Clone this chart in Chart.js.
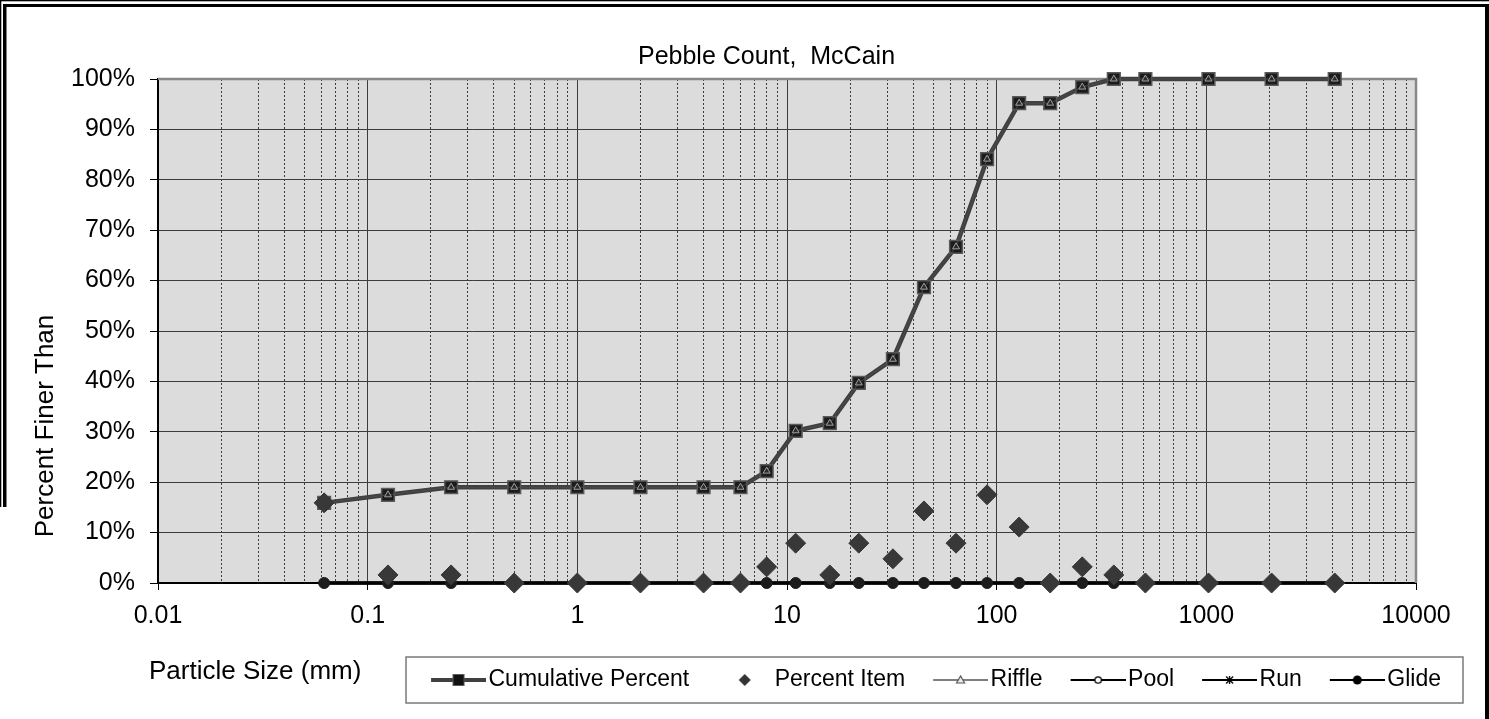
<!DOCTYPE html>
<html>
<head>
<meta charset="utf-8">
<title>Pebble Count, McCain</title>
<script src="https://cdn.jsdelivr.net/npm/chart.js@4.4.1/dist/chart.umd.min.js"></script>
<style>
  html, body { margin: 0; padding: 0; background: #fff; }
  #wrap { position: relative; width: 1489px; height: 719px; }
</style>
</head>
<body>
<div id="wrap"><canvas id="chart"></canvas></div>
<script>
// Particle sizes (mm) of the size classes
const sizes = [0.062, 0.125, 0.25, 0.5, 1, 2, 4, 6, 8, 11, 16, 22, 32, 45, 64, 90, 128, 180, 256, 362, 512, 1024, 2048, 4096];

// Series values (%)
const cumulative  = [15.9, 17.5, 19.0, 19.0, 19.0, 19.0, 19.0, 19.0, 22.2, 30.2, 31.7, 39.7, 44.4, 58.7, 66.7, 84.1, 95.2, 95.2, 98.4, 100, 100, 100, 100, 100];
const percentItem = [15.9, 1.6, 1.6, 0, 0, 0, 0, 0, 3.2, 7.9, 1.6, 7.9, 4.8, 14.3, 7.9, 17.5, 11.1, 0, 3.2, 1.6, 0, 0, 0, 0];
const riffle      = [15.9, 17.5, 19.0, 19.0, 19.0, 19.0, 19.0, 19.0, 22.2, 30.2, 31.7, 39.7, 44.4, 58.7, 66.7, 84.1, 95.2, 95.2, 98.4, 100, 100, 100, 100, 100];
const pool        = [0, 0, 0, 0, 0, 0, 0, 0, 0, 0, 0, 0, 0, 0, 0, 0, 0, 0, 0, 0, 0, 0, 0, 0];
const run         = [0, 0, 0, 0, 0, 0, 0, 0, 0, 0, 0, 0, 0, 0, 0, 0, 0, 0, 0, 0, 0, 0, 0, 0];
const glide       = [0, 0, 0, 0, 0, 0, 0, 0, 0, 0, 0, 0, 0, 0, 0, 0, 0, 0, 0, 0, 0, 0, 0, 0];

const seriesNames = ['Cumulative Percent', 'Percent Item', 'Riffle', 'Pool', 'Run', 'Glide'];

// Axis ticks
const xDecades = [0.01, 0.1, 1, 10, 100, 1000, 10000];
const xTickLabels = ['0.01', '0.1', '1', '10', '100', '1000', '10000'];
const minorSteps = [2, 3, 4, 5, 6, 7, 8, 9];
const yTickLabels = ['0%', '10%', '20%', '30%', '40%', '50%', '60%', '70%', '80%', '90%', '100%'];

const titleText = 'Pebble Count,  McCain';
const xTitle = 'Particle Size (mm)';
const yTitle = 'Percent Finer Than';

Chart.defaults.font.family = '"Liberation Sans", Arial, sans-serif';
Chart.defaults.color = '#000';

const toPoints = (vals) => sizes.map((s, i) => ({ x: s, y: vals[i] }));

function buildXTicks() {
  const ticks = [];
  xDecades.forEach((d, i) => {
    ticks.push({ value: d, major: true });
    if (i < xDecades.length - 1) {
      minorSteps.forEach((m) => ticks.push({ value: d * m, major: false }));
    }
  });
  return ticks;
}

// little line+marker samples for the legend
function legendIcon(line, marker) {
  const c = document.createElement('canvas');
  c.width = 64;
  c.height = 24;
  const g = c.getContext('2d');
  if (line) {
    g.strokeStyle = line.color;
    g.lineWidth = line.width;
    g.beginPath();
    g.moveTo(9, 12);
    g.lineTo(64, 12);
    g.stroke();
  }
  marker(g, 36.5, 12);
  return c;
}

const icons = [
  legendIcon({ color: '#404040', width: 4 }, (g, x, y) => {
    g.fillStyle = '#111';
    g.fillRect(x - 5.5, y - 5.5, 11, 11);
    g.strokeStyle = '#5a5a5a';
    g.lineWidth = 1;
    g.strokeRect(x - 5.5, y - 5.5, 11, 11);
  }),
  legendIcon(null, (g, x, y) => {
    g.fillStyle = '#333';
    g.beginPath();
    g.moveTo(x, y - 6); g.lineTo(x + 6, y); g.lineTo(x, y + 6); g.lineTo(x - 6, y);
    g.closePath();
    g.fill();
  }),
  legendIcon({ color: '#555', width: 1.5 }, (g, x, y) => {
    g.fillStyle = '#eee';
    g.strokeStyle = '#555';
    g.lineWidth = 1.2;
    g.beginPath();
    g.moveTo(x, y - 4); g.lineTo(x + 4, y + 3); g.lineTo(x - 4, y + 3);
    g.closePath();
    g.fill(); g.stroke();
  }),
  legendIcon({ color: '#000', width: 2 }, (g, x, y) => {
    g.fillStyle = '#fff';
    g.strokeStyle = '#000';
    g.lineWidth = 1.3;
    g.beginPath();
    g.arc(x, y, 3.2, 0, Math.PI * 2);
    g.fill(); g.stroke();
  }),
  legendIcon({ color: '#000', width: 2 }, (g, x, y) => {
    g.strokeStyle = '#000';
    g.lineWidth = 1.3;
    g.beginPath();
    g.moveTo(x - 3.5, y - 3.5); g.lineTo(x + 3.5, y + 3.5);
    g.moveTo(x + 3.5, y - 3.5); g.lineTo(x - 3.5, y + 3.5);
    g.moveTo(x, y - 4); g.lineTo(x, y + 4);
    g.stroke();
  }),
  legendIcon({ color: '#000', width: 2 }, (g, x, y) => {
    g.fillStyle = '#000';
    g.beginPath();
    g.arc(x, y, 4.5, 0, Math.PI * 2);
    g.fill();
  })
];

const decorations = {
  id: 'decorations',
  beforeDraw(chart) {
    const { ctx, chartArea: a } = chart;
    ctx.save();
    ctx.fillStyle = '#dcdcdc';
    ctx.fillRect(a.left, a.top, a.right - a.left, a.bottom - a.top);
    ctx.restore();
  },
  beforeDatasetsDraw(chart) {
    const { ctx, chartArea: a } = chart;
    ctx.save();
    ctx.strokeStyle = '#888';
    ctx.lineWidth = 2.5;
    ctx.beginPath();
    ctx.moveTo(a.left, a.top);
    ctx.lineTo(a.right, a.top);
    ctx.lineTo(a.right, a.bottom);
    ctx.stroke();
    ctx.restore();
  },
  afterDraw(chart) {
    const { ctx } = chart;
    ctx.save();
    ctx.fillStyle = '#000';
    ctx.font = '26px "Liberation Sans", Arial, sans-serif';
    ctx.textBaseline = 'middle';

    // axis titles
    ctx.textAlign = 'left';
    ctx.fillText(xTitle, 149, 672);
    ctx.save();
    ctx.translate(46, 426);
    ctx.rotate(-Math.PI / 2);
    ctx.textAlign = 'center';
    ctx.fillText(yTitle, 0, 0);
    ctx.restore();

    // legend frame
    const lg = chart.legend;
    if (lg && lg.legendHitBoxes && lg.legendHitBoxes.length) {
      const x0 = lg.legendHitBoxes[0].left - 25;
      ctx.strokeStyle = '#7a7a7a';
      ctx.lineWidth = 1.5;
      ctx.strokeRect(x0, 657, lg.right - 6 - x0, 46);
    }

    // outer frame (cut off at the bottom-left as in the source)
    ctx.fillRect(0, 0, 1489, 1.3);
    ctx.fillRect(3, 4, 1482, 3);
    ctx.fillRect(0, 0, 1.3, 507);
    ctx.fillRect(3, 4, 3.5, 503);
    ctx.fillRect(1485, 4, 4, 715);
    ctx.restore();
  }
};

new Chart(document.getElementById('chart'), {
  type: 'line',
  data: {
    datasets: [
      {
        label: seriesNames[0],
        data: toPoints(cumulative),
        order: 3,
        borderColor: '#404040',
        borderWidth: 4.5,
        pointStyle: 'rect',
        pointRadius: 9,
        pointBackgroundColor: '#1c1c1c',
        pointBorderColor: '#5a5a5a',
        pointBorderWidth: 1.5,
        clip: false
      },
      {
        label: seriesNames[1],
        data: toPoints(percentItem),
        order: 0,
        showLine: false,
        pointStyle: 'rectRot',
        pointRadius: 10,
        pointBackgroundColor: '#383838',
        pointBorderColor: '#383838',
        pointBorderWidth: 1,
        borderColor: '#383838',
        clip: false
      },
      {
        label: seriesNames[2],
        data: toPoints(riffle),
        order: 2,
        borderColor: '#4a4a4a',
        borderWidth: 1,
        pointStyle: 'triangle',
        pointRadius: 4,
        pointBackgroundColor: '#2a2a2a',
        pointBorderColor: '#a0a0a0',
        pointBorderWidth: 1,
        clip: false
      },
      {
        label: seriesNames[3],
        data: toPoints(pool),
        order: 5,
        borderColor: '#000',
        borderWidth: 3,
        pointStyle: 'circle',
        pointRadius: 3,
        pointBackgroundColor: '#fff',
        pointBorderColor: '#000',
        pointBorderWidth: 1,
        clip: false
      },
      {
        label: seriesNames[4],
        data: toPoints(run),
        order: 4,
        borderColor: '#000',
        borderWidth: 3,
        pointStyle: 'star',
        pointRadius: 4,
        pointBorderColor: '#000',
        pointBorderWidth: 1,
        clip: false
      },
      {
        label: seriesNames[5],
        data: toPoints(glide),
        order: 1,
        borderColor: '#000',
        borderWidth: 3,
        pointStyle: 'circle',
        pointRadius: 5.5,
        pointBackgroundColor: '#1c1c1c',
        pointBorderColor: '#1c1c1c',
        pointBorderWidth: 1,
        clip: false
      }
    ]
  },
  options: {
    responsive: true,
    maintainAspectRatio: false,
    animation: false,
    layout: { padding: { left: 64, right: 20, top: 0, bottom: 17.5 } },
    plugins: {
      title: {
        display: true,
        text: titleText,
        color: '#000',
        font: { size: 25, weight: 'normal' },
        padding: { top: 42, bottom: 7 }
      },
      legend: {
        position: 'bottom',
        align: 'end',
        labels: {
          color: '#000',
          font: { size: 23 },
          usePointStyle: true,
          pointStyleWidth: 46,
          padding: 28,
          generateLabels(chart) {
            const items = Chart.defaults.plugins.legend.labels.generateLabels(chart);
            items.sort((a, b) => a.datasetIndex - b.datasetIndex);
            items.forEach((it) => {
              it.pointStyle = icons[it.datasetIndex];
              it.rotation = 0;
            });
            return items;
          }
        }
      },
      tooltip: { enabled: false }
    },
    scales: {
      x: {
        type: 'logarithmic',
        position: 'bottom',
        min: 0.01,
        max: 10000,
        afterBuildTicks(s) { s.ticks = buildXTicks(); },
        afterFit(s) { s.height = 57.5; },
        ticks: {
          autoSkip: false,
          maxRotation: 0,
          minRotation: 0,
          padding: 11,
          font: { size: 25 },
          color: '#000',
          callback: (v, i, ticks) => (ticks[i].major ? xTickLabels[xDecades.indexOf(v)] : '')
        },
        grid: {
          color: '#3c3c3c',
          lineWidth: 1,
          tickLength: 7,
          tickWidth: 1,
          tickColor: (c) => (c.tick && c.tick.major ? '#000' : 'rgba(0,0,0,0)')
        },
        border: {
          color: '#000',
          width: 2,
          dash: (c) => (c.tick && !c.tick.major ? [2, 2] : [])
        }
      },
      y: {
        position: 'left',
        min: 0,
        max: 100,
        afterFit(s) { s.width = 94; },
        ticks: {
          stepSize: 10,
          padding: 15,
          font: { size: 25 },
          color: '#000',
          callback: (v, i) => yTickLabels[i]
        },
        grid: {
          color: '#3c3c3c',
          lineWidth: 1,
          tickLength: 8,
          tickColor: '#000'
        },
        border: { color: '#000', width: 2 }
      },
      yR: {
        type: 'linear',
        position: 'right',
        display: true,
        grid: { display: false, drawTicks: false },
        border: { display: false },
        ticks: { display: false },
        afterFit(s) { s.width = 53; }
      }
    }
  },
  plugins: [decorations]
});
</script>
</body>
</html>
